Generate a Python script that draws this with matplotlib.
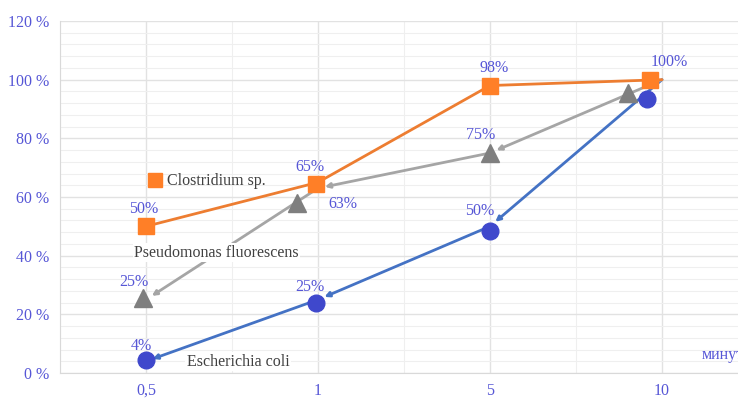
import matplotlib.pyplot as plt
import numpy as np

plt.rcParams['font.family'] = ['Liberation Serif', 'DejaVu Serif']

categories = ['0,5', '1', '5', '10']
clostridium = [50, 65, 98, 100]
pseudomonas = [25, 63, 75, 100]
ecoli = [4, 25, 50, 100]

# markers in the original are placed by hand, a little off the lines
clostridium_marks = [50, 64.5, 98, 100]
pseudomonas_marks = [25.5, 58, 75, 95.5]
ecoli_marks = [4.5, 24, 48.5, 93.5]

clostridium_labels = ['50%', '65%', '98%', '100%']
pseudomonas_labels = ['25%', '63%', '75%', '']
ecoli_labels = ['4%', '25%', '50%', '']

label_color = '#5656d6'
text_color = '#404040'

x = np.arange(len(categories))

fig = plt.figure(figsize=(7.38, 3.98), dpi=100)
ax = fig.add_axes([60/738, 25/398, 688/738, 352/398])
ax.set_xlim(-0.5, 3.5)
ax.set_ylim(0, 120)

ax.set_yticks(range(0, 121, 20))
ax.set_yticklabels([f'{v} %' for v in range(0, 121, 20)])
ax.set_yticks(range(0, 121, 4), minor=True)
ax.set_xticks(x)
ax.set_xticklabels(categories)
ax.set_xticks(np.arange(-0.5, 3.6, 1), minor=True)
ax.grid(True, which='major', color='#e2e2e2', lw=1)
ax.grid(True, which='minor', color='#efefef', lw=0.8)
ax.set_axisbelow(True)
for s in ['top', 'right']:
    ax.spines[s].set_visible(False)
for s in ['left', 'bottom']:
    ax.spines[s].set_color('#d9d9d9')
ax.tick_params(which='both', length=0, labelsize=11.5, labelcolor=label_color)
ax.tick_params(axis='y', pad=8)
ax.tick_params(axis='x', pad=7)

def draw_series(vals, marks, offs, line_c, mark_c, marker, ms, arrows=True):
    # each segment is an arrow pointing back to the previous point
    for i in range(len(vals) - 1):
        style = '-|>' if arrows else '-'
        ax.annotate('', xy=(x[i], vals[i]), xytext=(x[i+1], vals[i+1]),
                    arrowprops=dict(arrowstyle=style, color=line_c, lw=2,
                                    mutation_scale=7, shrinkA=0, shrinkB=5),
                    zorder=2)
    ax.plot(x + np.array(offs), marks, ls='none', marker=marker, ms=ms,
            color=mark_c, zorder=3)

draw_series(ecoli, ecoli_marks, [0, -0.01, 0, -0.09], '#4472c4', '#3f48cc', 'o', 12)
draw_series(pseudomonas, pseudomonas_marks, [-0.02, -0.12, 0, -0.2], '#a5a5a5', '#7f7f7f', '^', 13)
draw_series(clostridium, clostridium_marks, [0, -0.01, 0, -0.07], '#ed7d31', '#ff7f27', 's', 11,
            arrows=False)

def draw_labels(labels, marks, offs, shifts):
    for i, lab in enumerate(labels):
        if lab:
            ax.annotate(lab, (x[i] + offs[i], marks[i]), xytext=shifts[i],
                        textcoords='offset pixels', ha='center', va='center',
                        fontsize=11.5, color=label_color, zorder=4)

draw_labels(clostridium_labels, clostridium_marks, [0, -0.01, 0, -0.07],
            [(-2, 17), (-6, 17), (4, 18), (19, 18)])
draw_labels(pseudomonas_labels, pseudomonas_marks, [-0.02, -0.12, 0, -0.2],
            [(-9, 16), (46, -1), (-9, 18), (0, 0)])
draw_labels(ecoli_labels, ecoli_marks, [0, -0.01, 0, -0.09],
            [(-5, 14), (-6, 16), (-10, 20), (0, 0)])

# series names written on the chart
ax.plot([0.052], [65.8], ls='none', marker='s', ms=10, color='#ff7f27')
ax.text(0.12, 65.5, 'Clostridium sp.', fontsize=11.5, color=text_color,
        va='center', ha='left')
ax.text(0.41, 41, 'Pseudomonas fluorescens', fontsize=11.5, color=text_color,
        va='center', ha='center', zorder=5,
        bbox=dict(fc='white', ec='none', pad=1))
ax.text(0.535, 3.8, 'Escherichia coli', fontsize=11.5, color=text_color,
        va='center', ha='center', zorder=5,
        bbox=dict(fc='white', ec='none', pad=1))
# axis unit, cut off by the right edge as in the original
ax.text(3.23, 6.1, 'минуты', fontsize=11.5, color=label_color,
        va='center', ha='left', clip_on=False)

fig.savefig('out.png', dpi=100)
